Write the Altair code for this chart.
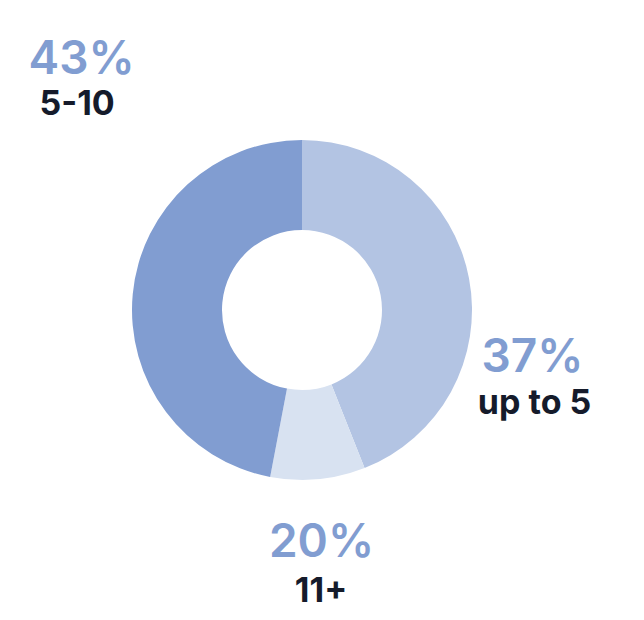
import altair as alt
import pandas as pd

# slice data (clockwise from 12 o'clock)
categories = ["up to 5", "11+", "5-10"]
slice_values = [44, 9, 47]
order_idx = [0, 1, 2]
pct_labels = ["37%", "20%", "43%"]
colors = ["#b3c4e3", "#d8e2f1", "#819dd1"]

df = pd.DataFrame({
    "cat": categories,
    "value": slice_values,
    "ord": order_idx,
    "pct": pct_labels,
})

FONT = "Inter"
PCT_COLOR = "#819dd1"
CAT_COLOR = "#151b2b"

theta = alt.Theta("value:Q", stack=True)
order = alt.Order("ord:Q", sort="ascending")

arcs = alt.Chart(df).mark_arc(outerRadius=170, innerRadius=80, stroke=None).encode(
    theta=theta,
    order=order,
    color=alt.Color("cat:N", scale=alt.Scale(domain=categories, range=colors), legend=None),
)

# label offsets from the mid-angle anchor of each slice (radius 250)
offsets = {
    "up to 5": {"pct": (-15, 109), "cat": (-13, 151)},
    "11+": {"pct": (-4, -2), "cat": (-4.5, 43)},
    "5-10": {"pct": (28.5, -212), "cat": (24, -171)},
}

layers = [arcs]
for c in categories:
    for kind in ("pct", "cat"):
        dx, dy = offsets[c][kind]
        is_pct = kind == "pct"
        layers.append(
            alt.Chart(df).mark_text(
                radius=250,
                dx=dx,
                dy=dy,
                align="center",
                baseline="alphabetic",
                font=FONT,
                fontSize=46 if is_pct else 34,
                fontWeight=600 if is_pct else 700,
                color=PCT_COLOR if is_pct else CAT_COLOR,
            ).encode(
                theta=theta,
                order=order,
                text=alt.condition(f"datum.cat == '{c}'", f"{kind}:N", alt.value("")),
            )
        )

chart = alt.layer(*layers).properties(
    width=588,
    height=596,
    padding={"left": 0, "top": 4, "right": 0, "bottom": 0},
).configure_view(stroke=None)

chart.save("out.html", embed_options={"renderer": "svg", "actions": False})
